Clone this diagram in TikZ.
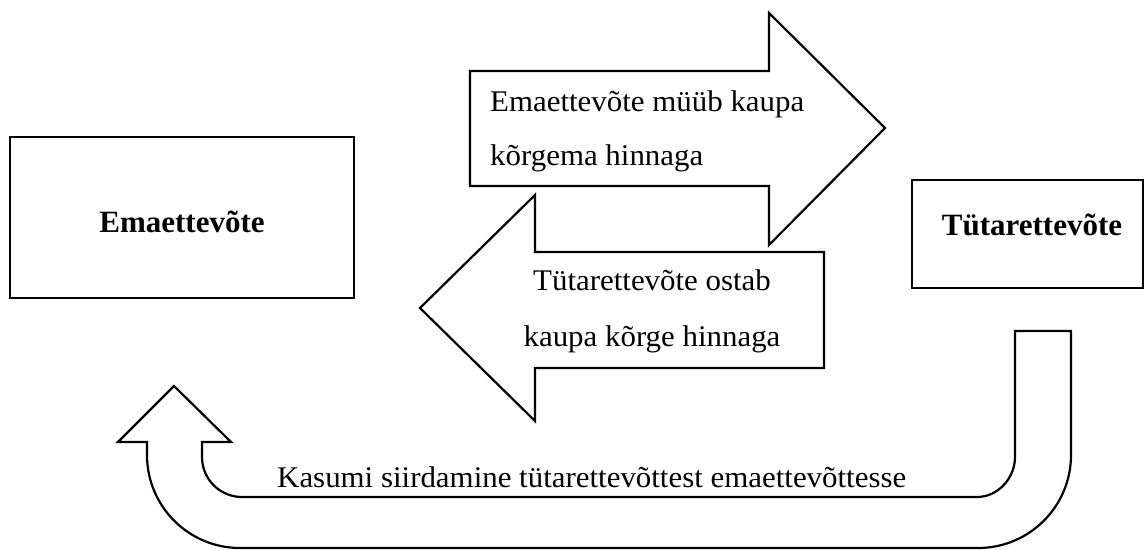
\documentclass[tikz,border=0pt]{standalone}
\usepackage{fontspec}
\setmainfont{Liberation Serif}[FakeStretch=1.03]
\newfontfamily\boxfont{Liberation Serif}
\begin{document}
\begin{tikzpicture}[x=1pt,y=-1pt,
  outline/.style={draw=black,line width=2.2pt,fill=white,line join=miter},
  boxlabel/.style={anchor=base,inner sep=0pt,font=\boxfont\fontsize{31}{37}\selectfont\bfseries},
  plainlabel/.style={inner sep=0pt,font=\fontsize{30}{36}\selectfont},
  companybox/.style={draw=black,line width=2.2pt,fill=white,inner sep=0pt}]
\useasboundingbox (0,0) rectangle (1145,549);
% company boxes
\node[companybox,minimum width=344pt,minimum height=161pt] (ema) at (182,217.5) {};
\node[boxlabel] (emaLabel) at (182,232) {Emaettevõte};
\node[companybox,minimum width=231pt,minimum height=108pt] (tyt) at (1027.5,234) {};
\node[boxlabel] (tytLabel) at (1032,235) {Tütarettevõte};
% top arrow (right)
\draw[outline] (470,71) -- (769,71) -- (769,13) -- (885,128) -- (769,245) -- (769,186) -- (470,186) -- cycle;
\node[plainlabel,anchor=base west] (sell1) at (490,111) {Emaettevõte müüb kaupa};
\node[plainlabel,anchor=base west] (sell2) at (490,165) {kõrgema hinnaga};
% bottom arrow (left)
\draw[outline] (824,252) -- (535,252) -- (535,195) -- (420,308) -- (535,421) -- (535,368) -- (824,368) -- cycle;
\node[plainlabel,anchor=base] (buy1) at (652,290) {Tütarettevõte ostab};
\node[plainlabel,anchor=base] (buy2) at (652,346) {kaupa kõrge hinnaga};
% U-turn arrow
\draw[outline] (174,386) -- (231,442) -- (202,442) -- (202,457)
  .. controls (202,479.1) and (219.9,497) .. (242,497)
  -- (977,497)
  .. controls (998,497) and (1015,478) .. (1015,457)
  -- (1015,331) -- (1071,331) -- (1071,455)
  .. controls (1071,506.4) and (1029.4,548) .. (978,548)
  -- (240,548)
  .. controls (188.6,548) and (147,506.4) .. (147,455)
  -- (147,442) -- (118,442) -- cycle;
\node[plainlabel,anchor=base west] (profit) at (277,487) {Kasumi siirdamine tütarettevõttest emaettevõttesse};
\end{tikzpicture}
\end{document}
